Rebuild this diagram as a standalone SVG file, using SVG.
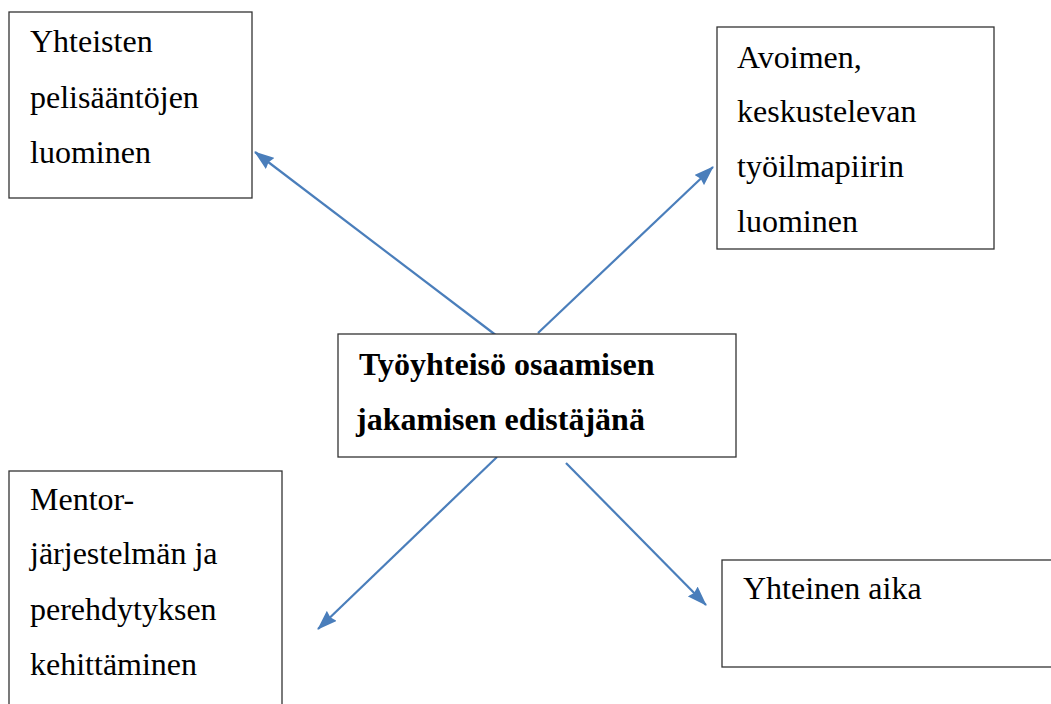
<svg xmlns="http://www.w3.org/2000/svg" width="1051" height="704" viewBox="0 0 1051 704">
<style>
.box{fill:#fff;stroke:#333;stroke-width:1.3}
text{font-family:'Liberation Serif',serif;font-size:32px;fill:#000}
.b{font-weight:bold}
.c{stroke:#4a7ebb;stroke-width:2.2;fill:none;marker-end:url(#ah)}
</style>
<defs>
<marker id="ah" viewBox="0 0 20 14" refX="19" refY="7" markerWidth="20" markerHeight="14" markerUnits="userSpaceOnUse" orient="auto">
<path d="M0,0 L20,7 L0,14 L2,7 Z" fill="#4a7ebb"/>
</marker>
</defs>
<rect width="1051" height="704" fill="#fff"/>
<g id="connectors">
<line class="c" x1="497" y1="336" x2="255" y2="152"/>
<line class="c" x1="538" y1="333" x2="713" y2="167"/>
<line class="c" x1="497" y1="457" x2="318" y2="629"/>
<line class="c" x1="566" y1="463" x2="706" y2="605"/>
</g>
<g id="n1">
<rect class="box" x="9" y="12" width="243" height="186"/>
<text x="30" y="52">Yhteisten</text>
<text x="30" y="108">pelisääntöjen</text>
<text x="30" y="163">luominen</text>
</g>
<g id="n2">
<rect class="box" x="717" y="27" width="277" height="222"/>
<text x="737" y="68">Avoimen,</text>
<text x="737" y="122">keskustelevan</text>
<text x="737" y="177">työilmapiirin</text>
<text x="737" y="232">luominen</text>
</g>
<g id="center">
<rect class="box" x="338" y="334" width="398" height="123"/>
<text class="b" x="359" y="375">Työyhteisö osaamisen</text>
<text class="b" x="356" y="430">jakamisen edistäjänä</text>
</g>
<g id="n3">
<rect class="box" x="9" y="471" width="273" height="240"/>
<text x="30" y="510">Mentor-</text>
<text x="30" y="564">järjestelmän ja</text>
<text x="30" y="620">perehdytyksen</text>
<text x="30" y="675">kehittäminen</text>
</g>
<g id="n4">
<rect class="box" x="722" y="560" width="340" height="107"/>
<text x="743" y="599">Yhteinen aika</text>
</g>
</svg>
